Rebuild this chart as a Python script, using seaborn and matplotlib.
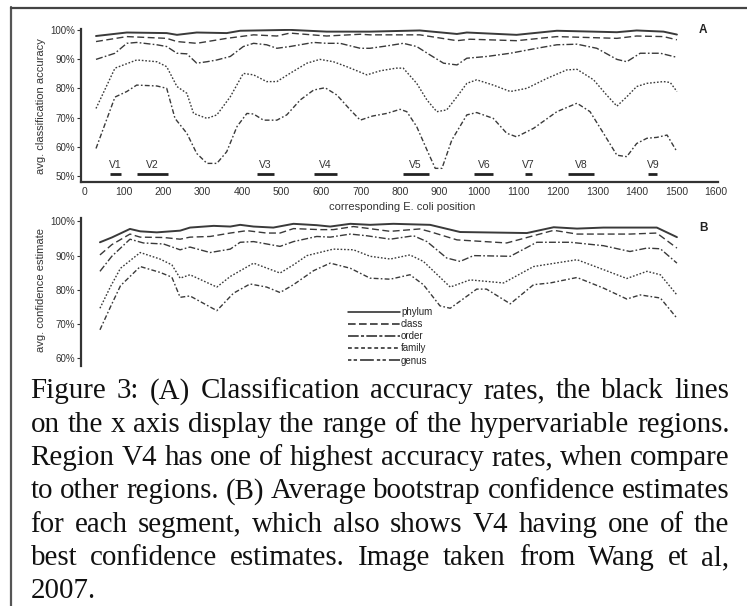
import numpy as np
import pandas as pd
import matplotlib
matplotlib.use("Agg")
import matplotlib.pyplot as plt
import seaborn as sns
from matplotlib.lines import Line2D

# ---------------- data ----------------
levels = ["phylum", "class", "order", "family", "genus"]

# Panel A: avg. classification accuracy (%) vs E. coli position
a_phylum_x = [30, 108, 209, 235, 285, 361, 395, 521, 614, 724, 850, 944, 969, 1095, 1197, 1349, 1399, 1467, 1501]
a_phylum_y = [97.9, 99.1, 98.9, 98.3, 99.1, 98.9, 99.7, 100, 99.4, 99.4, 99.8, 98.6, 99.1, 98.3, 99.7, 99.2, 99.8, 99.4, 98.4]
a_class_x = [30, 108, 209, 235, 285, 361, 429, 488, 521, 614, 699, 724, 850, 944, 977, 1095, 1197, 1349, 1399, 1467, 1501]
a_class_y = [96.0, 97.7, 97.1, 96.0, 95.4, 97.1, 98.3, 97.9, 98.9, 97.9, 98.5, 98.3, 98.3, 96.3, 96.8, 96.3, 97.7, 97.1, 97.9, 97.7, 96.6]
a_order_x = [30, 78, 108, 133, 184, 209, 235, 260, 285, 311, 336, 370, 403, 429, 462, 488, 521, 581, 614, 648,
             699, 724, 766, 808, 842, 876, 910, 944, 969, 1020, 1079, 1146, 1197, 1248, 1298, 1349, 1374, 1408, 1459, 1501]
a_order_y = [89.9, 92.0, 95.4, 95.7, 94.9, 94.3, 92.0, 91.8, 88.6, 89.1, 89.7, 90.9, 94.3, 95.4, 94.9, 93.7, 94.3, 95.7, 95.4, 95.4,
             93.7, 93.7, 94.5, 95.4, 94.3, 91.4, 88.6, 88.0, 90.3, 90.9, 92.0, 93.7, 94.9, 95.1, 93.7, 89.9, 89.1, 92.0, 92.0, 90.6]
a_family_x = [30, 78, 133, 184, 209, 235, 260, 277, 311, 336, 370, 403, 429, 462, 488, 521, 564, 597, 631, 665,
              716, 750, 790, 808, 842, 868, 893, 918, 944, 969, 994, 1036, 1079, 1121, 1172, 1222, 1248, 1290, 1323, 1349,
              1374, 1399, 1425, 1467, 1484, 1501]
a_family_y = [73.1, 86.9, 89.7, 89.1, 87.4, 80.6, 78.3, 71.4, 69.7, 70.9, 77.1, 85.1, 84.6, 82.3, 82.3, 85.1, 88.6, 89.9, 89.1, 87.4,
              84.6, 86.0, 86.9, 86.9, 81.7, 76.0, 72.0, 72.6, 77.1, 81.7, 82.9, 81.1, 78.9, 80.0, 83.4, 86.3, 86.5, 82.9, 77.7, 73.9,
              77.1, 80.6, 81.7, 82.3, 82.0, 78.9]
a_genus_x = [30, 78, 108, 133, 184, 209, 230, 260, 285, 311, 336, 361, 387, 412, 429, 454, 488, 513, 547, 581,
             610, 640, 674, 699, 730, 766, 800, 817, 842, 868, 889, 906, 931, 969, 994, 1036, 1070, 1095, 1138, 1197,
             1248, 1281, 1315, 1349, 1374, 1399, 1425, 1450, 1476, 1501]
a_genus_y = [59.4, 77.0, 78.9, 81.1, 80.8, 80.0, 69.7, 64.6, 57.7, 54.3, 54.3, 58.3, 66.9, 71.4, 71.2, 69.1, 69.1, 70.9, 76.0, 79.4,
             80.2, 77.7, 72.6, 69.1, 70.5, 71.4, 72.8, 72.0, 66.9, 58.9, 52.6, 52.6, 62.3, 70.9, 71.7, 69.7, 64.6, 63.4, 66.3, 72.0,
             74.9, 72.0, 64.6, 57.1, 56.6, 61.1, 62.9, 63.2, 64.0, 58.3]

# Panel B: avg. confidence estimate (%)
b_phylum_x = [40, 70, 116, 142, 184, 243, 268, 328, 370, 395, 429, 479, 530, 589, 623, 674, 724, 783, 876, 952, 1121, 1189, 1248, 1315, 1450, 1501]
b_phylum_y = [93.9, 95.3, 97.8, 97.1, 96.8, 97.3, 98.2, 98.7, 98.5, 99.0, 98.5, 98.2, 99.3, 98.9, 98.5, 99.3, 99.0, 99.3, 99.0, 96.9, 96.6, 98.3, 97.9, 98.2, 98.2, 95.4]
b_class_x = [40, 70, 116, 142, 201, 243, 268, 319, 370, 412, 462, 496, 530, 597, 631, 682, 716, 775, 850, 876, 944, 1070, 1189, 1248, 1382, 1450, 1501]
b_class_y = [90.2, 93.2, 96.3, 95.4, 95.3, 94.8, 95.4, 95.6, 96.6, 97.3, 96.6, 96.6, 97.9, 97.6, 97.6, 98.5, 98.0, 97.1, 97.8, 97.0, 94.6, 93.7, 97.4, 96.3, 96.3, 96.6, 92.2]
b_order_x = [40, 70, 116, 150, 201, 243, 268, 319, 370, 395, 429, 496, 530, 589, 623, 674, 716, 775, 834, 868,
             918, 952, 986, 1079, 1146, 1231, 1315, 1382, 1425, 1459, 1501]
b_order_y = [85.4, 89.8, 94.8, 93.7, 93.4, 91.7, 92.5, 90.9, 91.9, 93.9, 94.1, 92.7, 94.1, 95.6, 95.4, 96.3, 95.8, 94.8, 95.8, 94.1,
             89.3, 88.3, 90.0, 89.8, 93.9, 93.9, 92.9, 91.2, 92.2, 92.0, 87.8]
b_family_x = [40, 67, 92, 142, 192, 222, 243, 268, 336, 370, 429, 496, 530, 564, 631, 682, 724, 775, 825, 859,
              927, 977, 1062, 1138, 1248, 1315, 1374, 1425, 1459, 1501]
b_family_y = [74.6, 81.0, 86.3, 90.9, 89.0, 87.3, 83.4, 84.4, 80.8, 83.9, 87.8, 84.9, 87.3, 90.0, 91.9, 91.7, 89.8, 89.0, 90.2, 88.3,
              80.8, 82.9, 82.0, 86.8, 88.8, 85.9, 83.3, 85.4, 84.4, 78.5]
b_genus_x = [40, 67, 92, 142, 192, 222, 243, 268, 336, 378, 420, 462, 496, 530, 581, 623, 674, 724, 775, 825,
             859, 901, 927, 994, 1019, 1079, 1138, 1180, 1248, 1315, 1374, 1408, 1459, 1501]
b_genus_y = [68.3, 75.1, 81.2, 86.8, 85.1, 83.7, 77.8, 78.2, 73.9, 79.0, 81.7, 80.8, 79.2, 81.5, 85.6, 87.8, 86.3, 83.4, 83.1, 84.4,
             81.5, 75.3, 74.6, 80.2, 80.2, 75.9, 81.5, 82.0, 83.6, 80.5, 77.3, 78.5, 77.6, 71.7]

# hypervariable regions (E. coli positions)
region_names = ["V1", "V2", "V3", "V4", "V5", "V6", "V7", "V8", "V9"]
region_start = [66, 133, 437, 581, 807, 988, 1116, 1226, 1429]
region_end = [93, 213, 481, 641, 872, 1036, 1135, 1291, 1451]

a_yticks = [50, 60, 70, 80, 90, 100]
b_yticks = [60, 70, 80, 90, 100]
x_ticks = list(range(0, 1601, 100))

caption_lines = [
    "Figure 3: (A) Classification accuracy rates, the black lines",
    "on the x axis display the range of the hypervariable regions.",
    "Region V4 has one of highest accuracy rates, when compare",
    "to other regions. (B) Average bootstrap confidence estimates",
    "for each segment, which also shows V4 having one of the",
    "best confidence estimates. Image taken from Wang et al,",
    "2007.",
]

# ---------------- build frames ----------------
def long_df(series):
    frames = []
    for lvl, (xs, ys) in series.items():
        frames.append(pd.DataFrame({"pos": xs, "val": ys, "level": lvl}))
    return pd.concat(frames, ignore_index=True)

dfA = long_df({"phylum": (a_phylum_x, a_phylum_y), "class": (a_class_x, a_class_y),
               "order": (a_order_x, a_order_y), "family": (a_family_x, a_family_y),
               "genus": (a_genus_x, a_genus_y)})
dfB = long_df({"phylum": (b_phylum_x, b_phylum_y), "class": (b_class_x, b_class_y),
               "order": (b_order_x, b_order_y), "family": (b_family_x, b_family_y),
               "genus": (b_genus_x, b_genus_y)})

# ---------------- figure ----------------
sns.set_theme(style="white")
plt.rcParams["font.family"] = ["Liberation Sans", "DejaVu Sans"]

W, H = 747, 606
fig = plt.figure(figsize=(W / 100, H / 100), dpi=100)

def fx(px):
    return px / W

def fy(py):
    return 1 - py / H

axA = fig.add_axes([fx(81), fy(181.5), (718 - 81) / W, (181.5 - 29) / H])
axB = fig.add_axes([fx(81), fy(365.7), (718 - 81) / W, (365.7 - 218) / H])

LINE = "#3a3a3a"
TXT = "#333333"
dash_map = {"phylum": "", "class": (5, 2.5), "order": (5, 1.6, 1.2, 1.6),
            "family": (1.2, 1.3), "genus": (3.5, 1.6, 1.2, 1.6)}

for ax, df in ((axA, dfA), (axB, dfB)):
    sns.lineplot(data=df, x="pos", y="val", style="level", style_order=levels,
                 dashes=dash_map, color=LINE, linewidth=1.0, estimator=None,
                 sort=True, legend=False, ax=ax)
    ax.lines[0].set_linewidth(1.4)
    ax.set_xlim(-8, 1605)
    ax.set_xlabel("")
    ax.set_ylabel("")
    for s in ("top", "right"):
        ax.spines[s].set_visible(False)
    ax.spines["left"].set_linewidth(1.6)
    ax.spines["left"].set_color("#333333")
    ax.tick_params(axis="y", direction="out", length=3, width=0.8, pad=1,
                   labelsize=7, colors=TXT, left=True)

axA.set_ylim(48.1, 100.3)
axA.set_yticks(a_yticks)
axA.set_yticklabels([f"{v}%" for v in a_yticks])
axA.set_xticks(x_ticks)
axA.set_xticklabels([str(v) for v in x_ticks])
axA.tick_params(axis="x", length=0, pad=4, labelsize=7.5, colors=TXT)
axA.spines["bottom"].set_linewidth(1.6)
axA.spines["bottom"].set_color("#333333")

axB.set_ylim(57.8, 101)
axB.set_yticks(b_yticks)
axB.set_yticklabels([f"{v}%" for v in b_yticks])
axB.set_xticks([])
axB.spines["bottom"].set_visible(False)

# hypervariable region bars + labels
axA.hlines([50.7] * len(region_start), region_start, region_end, color="#222222", lw=2)
for n, s, e in zip(region_names, region_start, region_end):
    axA.text((s + e) / 2, 53.9, n, ha="center", va="center", fontsize=7.5, color=TXT)

# axis labels
fig.text(fx(41.5), fy(106.5), "avg. classification accuracy", rotation=90, ha="center", va="center",
         fontsize=8, color=TXT)
fig.text(fx(41.5), fy(290), "avg. confidence estimate", rotation=90, ha="center", va="center",
         fontsize=8, color=TXT)
fig.text(fx(402.5), fy(207.5), "corresponding E. coli position", ha="center", va="center",
         fontsize=8, color=TXT)
fig.text(fx(703), fy(30), "A", ha="center", va="center", fontsize=8.5, fontweight="bold", color="#222")
fig.text(fx(703), fy(228), "B", ha="center", va="center", fontsize=8.5, fontweight="bold", color="#222")

# legend
leg_styles = {"phylum": "-", "class": (0, (5, 2.2)), "order": (0, (7, 1.5, 2, 1.5)),
              "family": (0, (2.5, 1.8)), "genus": (0, (2.2, 1.5, 2.2, 2, 9, 2))}
handles = [Line2D([], [], color="#222222", lw=1.1, linestyle=leg_styles[l]) for l in levels]
axB.legend(handles, levels, loc="upper left", bbox_to_anchor=(fx(348), fy(307)),
           bbox_transform=fig.transFigure, frameon=False, fontsize=7, handlelength=5.3,
           handletextpad=0.15, labelspacing=0.22, borderpad=0, borderaxespad=0)

# outer frame
fig.add_artist(Line2D([fx(10.5), fx(10.5)], [fy(7), 0], transform=fig.transFigure, color="#555555", lw=1.6))
fig.add_artist(Line2D([fx(10.5), 1], [fy(7.5), fy(7.5)], transform=fig.transFigure, color="#444444", lw=1.6))

# justified caption
fig.canvas.draw()
r = fig.canvas.get_renderer()
CAP_FONT = "Liberation Serif"

def text_w(s, fs):
    t = fig.text(0, 0, s, fontsize=fs, family=CAP_FONT)
    w = t.get_window_extent(r).width
    t.remove()
    return w

left, right = 30.5, 729.5
fs = 13 * (right - left) / text_w(caption_lines[3], 13)
base0, step = 398.5, 33.3
for i, line in enumerate(caption_lines):
    yb = base0 + i * step
    words = line.split()
    if i == len(caption_lines) - 1 or len(words) == 1:
        fig.text(fx(left), fy(yb), line, fontsize=fs, family=CAP_FONT, va="baseline", ha="left", color="#111")
        continue
    widths = [text_w(w, fs) for w in words]
    gap = (right - left - sum(widths)) / (len(words) - 1)
    x = left
    for w, wd in zip(words, widths):
        fig.text(fx(x), fy(yb), w, fontsize=fs, family=CAP_FONT, va="baseline", ha="left", color="#111")
        x += wd + gap

fig.savefig("out.png", dpi=100)
